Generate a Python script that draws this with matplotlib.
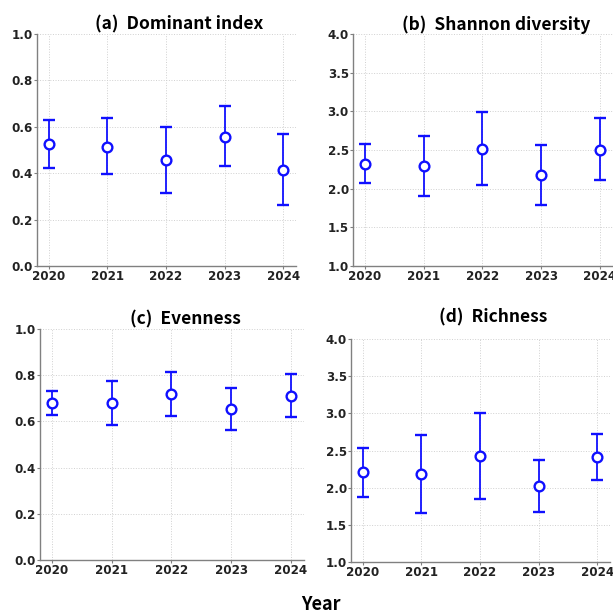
import numpy as np
import matplotlib
matplotlib.use('Agg')
import matplotlib.pyplot as plt

plt.rcParams['font.family'] = ['DejaVu Sans']

years = [2020, 2021, 2022, 2023, 2024]

# ---------- 数据（均值、下限、上限） ----------
dom_mean = [0.527, 0.515, 0.455, 0.558, 0.414]
dom_low  = [0.424, 0.396, 0.314, 0.433, 0.262]
dom_up   = [0.630, 0.636, 0.600, 0.688, 0.568]

sha_mean = [2.321, 2.295, 2.515, 2.174, 2.506]
sha_low  = [2.075, 1.911, 2.044, 1.790, 2.109]
sha_up   = [2.575, 2.683, 2.985, 2.567, 2.908]

eve_mean = [0.678, 0.678, 0.718, 0.653, 0.712]
eve_low  = [0.629, 0.584, 0.623, 0.564, 0.621]
eve_up   = [0.730, 0.773, 0.815, 0.746, 0.805]

ric_mean = [2.206, 2.179, 2.421, 2.021, 2.412]
ric_low  = [1.877, 1.661, 1.841, 1.670, 2.107]
ric_up   = [2.538, 2.705, 3.006, 2.367, 2.723]

titles = ['(a)  Dominant index', '(b)  Shannon diversity', '(c)  Evenness', '(d)  Richness']

W, H = 613, 612
fig = plt.figure(figsize=(W / 100, H / 100), dpi=100)

# 像素位置 (left, top, right, bottom)
boxes = [(37, 34, 296, 266), (353, 34, 613, 266), (40, 329, 304, 560), (351, 339, 610, 562)]
panels = [
    (dom_mean, dom_low, dom_up, (0, 1), np.arange(0, 1.01, 0.2), '%.1f'),
    (sha_mean, sha_low, sha_up, (1, 4), np.arange(1, 4.01, 0.5), '%.1f'),
    (eve_mean, eve_low, eve_up, (0, 1), np.arange(0, 1.01, 0.2), '%.1f'),
    (ric_mean, ric_low, ric_up, (1, 4), np.arange(1, 4.01, 0.5), '%.1f'),
]
title_pad = [3, 3, 3, 12]

for i, (box, (m, lo, up, ylim, yt, fmt)) in enumerate(zip(boxes, panels)):
    l, t, r, b = box
    ax = fig.add_axes([l / W, 1 - b / H, (r - l) / W, (b - t) / H])
    m = np.array(m); lo = np.array(lo); up = np.array(up)
    ax.errorbar(years, m, yerr=[m - lo, up - m], fmt='o', color='#1010ff',
                mfc='white', mec='#1010ff', ms=7, mew=1.7,
                elinewidth=1.3, capsize=4, capthick=1.4, zorder=3)
    ax.set_xlim(2019.8, 2024.22)
    ax.set_ylim(*ylim)
    ax.set_xticks(years)
    ax.set_yticks(yt)
    ax.set_yticklabels([fmt % v for v in yt])
    ax.grid(True, linestyle=':', color='#d0d0d0', linewidth=0.7)
    for s in ['top', 'right']:
        ax.spines[s].set_visible(False)
    for s in ['left', 'bottom']:
        ax.spines[s].set_color('#808080')
        ax.spines[s].set_linewidth(1.0)
    ax.tick_params(axis='both', length=2, color='#808080', labelsize=8.6, pad=1)
    for lab in ax.get_xticklabels() + ax.get_yticklabels():
        lab.set_fontweight('bold')
        lab.set_color('#222222')
    ax.set_title(titles[i], x=0.55, fontsize=12.5, fontweight='bold',
                 family=['Noto Sans CJK KR', 'DejaVu Sans'], pad=title_pad[i])

fig.text(321 / W, 1 - 604 / H, 'Year', ha='center', va='center', fontsize=13,
         fontweight='bold', family=['Noto Sans CJK KR', 'DejaVu Sans'])

plt.savefig('out.png', dpi=100)
